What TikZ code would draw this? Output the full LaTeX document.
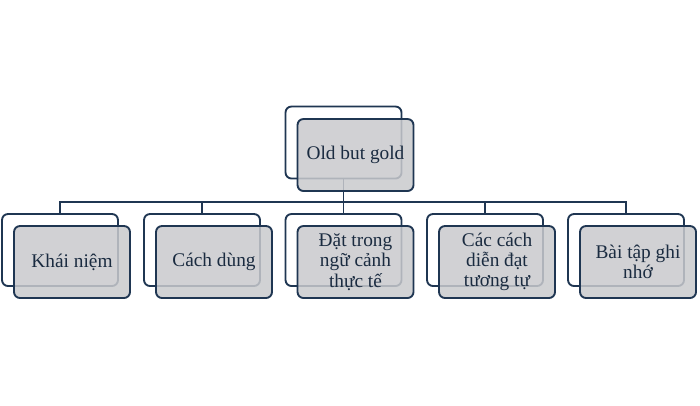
\documentclass[tikz,border=0pt]{standalone}
\usepackage{fontspec}
\setmainfont{Liberation Serif}
\definecolor{navy}{HTML}{1F3652}
\definecolor{inktext}{HTML}{1A2B40}
\definecolor{boxgray}{HTML}{C9CACD}
\begin{document}
\begin{tikzpicture}[x=0.75pt,y=-0.75pt,
    backbox/.style={draw=navy,line width=1.4pt,fill=white,rounded corners=4.5pt,
        minimum width=87pt,minimum height=54pt,inner sep=0pt},
    frontbox/.style={draw=navy,line width=1.4pt,fill=boxgray,fill opacity=0.85,
        text opacity=1,rounded corners=4.5pt,minimum width=87pt,minimum height=54pt,
        inner sep=0pt,align=center,text=inktext,font=\fontsize{14.5}{15.2}\selectfont},
    link/.style={draw=navy,line width=1.4pt}]
    \useasboundingbox (0,0) rectangle (700,405);
    % back boxes
    \node [backbox] (rootb) at(343.5,142.5) {};
    \node [backbox] (khaib) at(60,250) {};
    \node [backbox] (cachb) at(202,250) {};
    \node [backbox] (datb) at(343.5,250) {};
    \node [backbox] (dienb) at(485,250) {};
    \node [backbox] (baib) at(626,250) {};
    % connectors
    \coordinate (bus) at(343.5,202);
    \draw [link] (rootb.south)--(bus);
    \draw [link] (khaib.north) |- (bus) -| (baib.north);
    \draw [link] (cachb.north) |- (bus);
    \draw [link] (datb.north)--(bus);
    \draw [link] (dienb.north) |- (bus);
    % front boxes
    \node [frontbox] (root) at(355.5,155) {Old but gold};
    \node [frontbox] (khai) at(72,262) {Khái niệm};
    \node [frontbox] (cach) at(214,262) {Cách dùng};
    \node [frontbox] (dat) at(355.5,262) {Đặt trong\\ngữ cảnh\\thực tế};
    \node [frontbox] (dien) at(497,262) {Các cách\\diễn đạt\\tương tự};
    \node [frontbox] (bai) at(638,262) {Bài tập ghi\\nhớ};
\end{tikzpicture}
\end{document}
